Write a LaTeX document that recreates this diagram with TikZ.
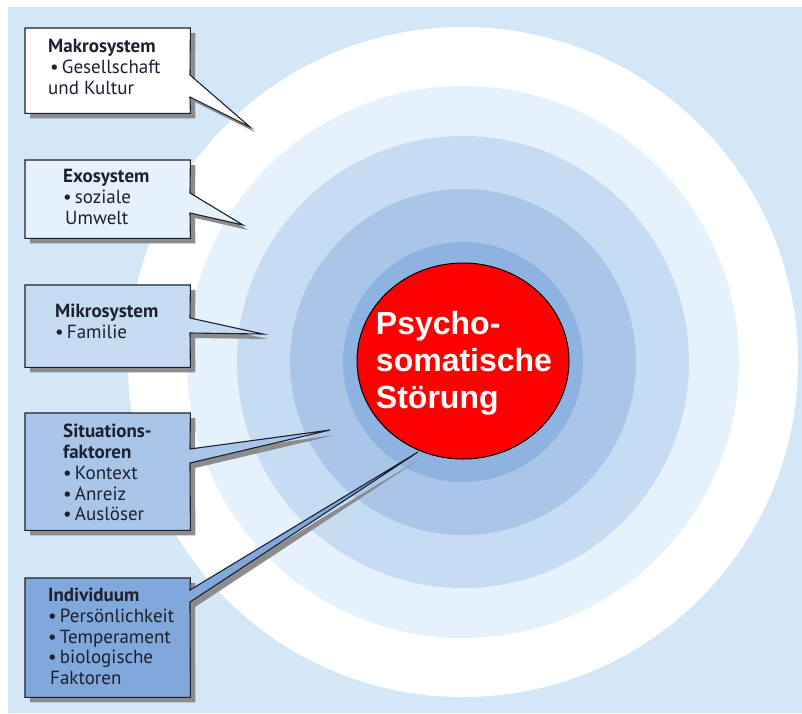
\documentclass[tikz,border=0pt]{standalone}
\usepackage{fontspec}
\setmainfont{PT Sans}
\newfontfamily\circlefont{Liberation Sans}
\usetikzlibrary{shadows}

\definecolor{bgblue}{HTML}{D4E7F7}
\definecolor{ringpale}{HTML}{E5F2FB}
\definecolor{ringlight}{HTML}{C6DCF2}
\definecolor{ringmedium}{HTML}{A9C6E9}
\definecolor{ringdark}{HTML}{8FB3E0}
\definecolor{boxdark}{HTML}{80A8DA}
\definecolor{textdark}{HTML}{1C2030}

\newcommand{\bul}{\textbullet\,}

\begin{document}
\begin{tikzpicture}
			[x=1pt,y=-1pt,line join=miter,
			%Styles
			box/.style={anchor=north west,minimum width=165pt,inner sep=0pt},
			callout/.style={draw=textdark,line width=1.1pt,
				drop shadow={shadow xshift=5pt,shadow yshift=-5pt,fill=black!45,opacity=1}},
			info/.style={anchor=north west,align=left,inner sep=0pt,text=textdark,
				font=\fontsize{19}{20.75}\selectfont},
			core/.style={align=left,text=white,inner sep=0pt,
				font=\circlefont\bfseries\fontsize{32}{37}\selectfont}
			]
			
			%Background and rings
			\useasboundingbox (0,0) rectangle (802,713);
			\fill[white] (0,0) rectangle (802,713);
			\fill[bgblue] (8,7) rectangle (802,713);
			\fill[white] (463,362) circle (335);
			\fill[ringpale] (463,362) circle (276);
			\fill[ringlight] (463,362) circle (226);
			\fill[ringmedium] (463,362) circle (173);
			\fill[ringdark] (463,362) circle (120);
			\filldraw[fill=red,draw=black,line width=1pt] (463,361) ellipse [x radius=106,y radius=98];
			
			%The graphic
			\node[core] (stoerung) at (464,363) {Psycho-\\somatische\\Störung};
			
			\node[box,minimum height=85pt] (makro) at (25,28) {};
			\node[box,minimum height=78pt] (exo) at (25,160) {};
			\node[box,minimum height=82pt] (mikro) at (25,285) {};
			\node[box,minimum height=117pt] (situation) at (25,413) {};
			\node[box,minimum height=119pt] (individuum) at (25,578) {};
			
			\coordinate (makroA) at (190,75);   \coordinate (makroB) at (190,97);
			\coordinate (exoA) at (190,193);    \coordinate (exoB) at (190,213);
			\coordinate (mikroA) at (190,318);  \coordinate (mikroB) at (190,333);
			\coordinate (situationA) at (190,449); \coordinate (situationB) at (190,463);
			\coordinate (individuumA) at (190,590); \coordinate (individuumB) at (190,602);
			\coordinate (makroTip) at (250,127);
			\coordinate (exoTip) at (243,225);
			\coordinate (mikroTip) at (263,334);
			\coordinate (situationTip) at (330,430);
			\coordinate (individuumTip) at (418,452);
			
			\draw[callout,fill=white] (makro.north west) -- (makro.north east) -- (makroA)
				-- (makroTip) -- (makroB) -- (makro.south east) -- (makro.south west) -- cycle;
			\draw[callout,fill=ringpale] (exo.north west) -- (exo.north east) -- (exoA)
				-- (exoTip) -- (exoB) -- (exo.south east) -- (exo.south west) -- cycle;
			\draw[callout,fill=ringlight] (mikro.north west) -- (mikro.north east) -- (mikroA)
				-- (mikroTip) -- (mikroB) -- (mikro.south east) -- (mikro.south west) -- cycle;
			\draw[callout,fill=ringmedium] (situation.north west) -- (situation.north east) -- (situationA)
				-- (situationTip) -- (situationB) -- (situation.south east) -- (situation.south west) -- cycle;
			\draw[callout,fill=boxdark] (individuum.north west) -- (individuum.north east) -- (individuumA)
				-- (individuumTip) -- (individuumB) -- (individuum.south east) -- (individuum.south west) -- cycle;
			
			\node[info] (makroText) at (48,39) {\textbf{Makrosystem}\\\hspace*{2pt}\bul Gesellschaft\\und Kultur};
			\node[info] (exoText) at (63,169) {\textbf{Exosystem}\\\bul soziale\\\hspace*{2pt}Umwelt};
			\node[info] (mikroText) at (55,304) {\textbf{Mikrosystem}\\\bul Familie};
			\node[info] (situationText) at (63,424) {\textbf{Situations-}\\\textbf{faktoren}\\\bul Kontext\\\bul Anreiz\\\bul Auslöser};
			\node[info] (individuumText) at (48,588) {\textbf{Individuum}\\\bul Persönlichkeit\\\bul Temperament\\\bul biologische\\\hspace*{2pt}Faktoren};
		\end{tikzpicture}
\end{document}
